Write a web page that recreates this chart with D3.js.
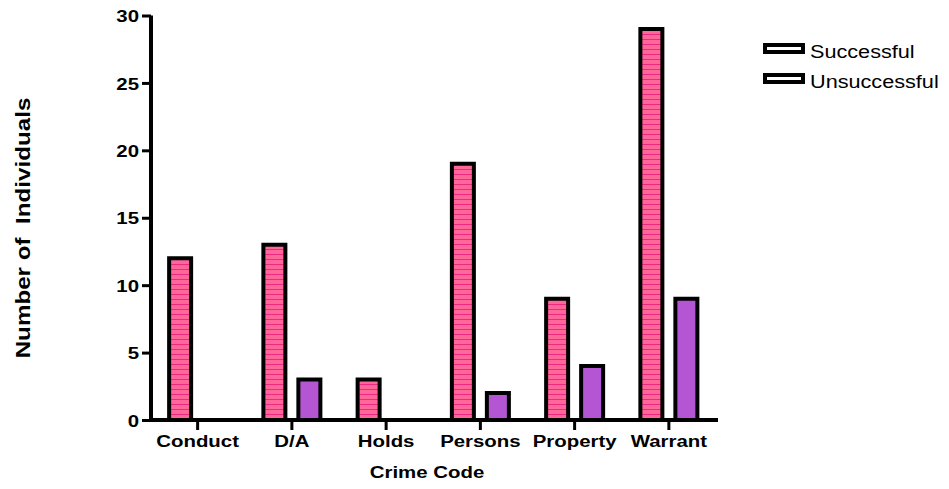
<!DOCTYPE html>
<html>
<head>
<meta charset="utf-8">
<script src="https://cdn.jsdelivr.net/npm/d3@7"></script>
<style>
  html, body { margin: 0; padding: 0; background: #fff; }
  svg { display: block; }
  text { font-family: "Liberation Sans", Arial, Helvetica, sans-serif; fill: #000; }
</style>
</head>
<body>
<svg id="chart" width="949" height="489"></svg>
<script>
const categories = ["Conduct", "D/A", "Holds", "Persons", "Property", "Warrant"];
const seriesNames = ["Successful", "Unsuccessful"];
const successful = [12, 13, 3, 19, 9, 29];
const unsuccessful = [0, 3, 0, 2, 4, 9];
const yTicks = [0, 5, 10, 15, 20, 25, 30];
const xTitle = "Crime Code";
const yTitle = "Number of \u00a0Individuals";

const FONT = "Liberation Sans, Arial, Helvetica, sans-serif";
const STRETCH = 1.2;

const svg = d3.select("#chart");
const defs = svg.append("defs");
const pat = defs.append("pattern")
  .attr("id", "stripes").attr("patternUnits", "userSpaceOnUse")
  .attr("width", 10).attr("height", 5);
pat.append("rect").attr("width", 10).attr("height", 5).attr("fill", "#FF6699");
pat.append("rect").attr("y", 4).attr("width", 10).attr("height", 1).attr("fill", "#EE2A80");

const x0 = d3.scaleBand().domain(categories).range([150.5, 716]).padding(0);
const x1 = d3.scaleBand().domain(seriesNames).range([-30.5, 30.5]).paddingInner(0.257).paddingOuter(0);
const y = d3.scaleLinear().domain([0, 30]).range([420, 15.5]);

const fills = { "Successful": "url(#stripes)", "Unsuccessful": "#B456D4" };
const data = categories.map((c, i) => ({ cat: c, vals: [
  { s: "Successful", v: successful[i] },
  { s: "Unsuccessful", v: unsuccessful[i] }
]}));

const g = svg.append("g");
const groups = g.selectAll("g.grp").data(data).join("g")
  .attr("transform", d => `translate(${x0(d.cat) + x0.bandwidth() / 2},0)`);
groups.selectAll("path").data(d => d.vals).join("path")
  .attr("d", d => {
    const xl = x1(d.s) + 2, xr = x1(d.s) + x1.bandwidth() - 2;
    const y0 = y(0), yv = y(d.v);
    return `M${xl},${y0}V${yv}H${xr}V${y0}Z`;
  })
  .attr("fill", d => fills[d.s])
  .attr("stroke", "#000").attr("stroke-width", 4);

function stretch(sel, s) {
  sel.each(function () {
    const t = d3.select(this);
    const xx = +t.attr("x") || 0;
    t.attr("x", 0).attr("transform", `translate(${xx},0) scale(${s},1)`);
  });
}

// Y axis
const yAxis = g.append("g").attr("transform", "translate(151,0)")
  .call(d3.axisLeft(y).tickValues(yTicks).tickSize(9).tickPadding(3));
yAxis.select(".domain").attr("stroke-width", 4).attr("d", `M0,${y(30)}V${y(0) + 2}`);
yAxis.selectAll(".tick line").attr("stroke-width", 3);
yAxis.selectAll(".tick text").attr("font-size", 17).attr("font-weight", "bold")
  .attr("font-family", FONT).attr("dy", "0.36em").call(stretch, STRETCH);

// X axis
const xAxis = g.append("g").attr("transform", `translate(0,${y(0)})`)
  .call(d3.axisBottom(x0).tickSize(10).tickPadding(5));
xAxis.select(".domain").attr("stroke-width", 4).attr("d", `M149,0H718`);
xAxis.selectAll(".tick line").attr("stroke-width", 3);
xAxis.selectAll(".tick text").attr("font-size", 17).attr("font-weight", "bold")
  .attr("font-family", FONT).call(stretch, STRETCH);

// Titles
svg.append("text").attr("transform", `translate(427,478) scale(${STRETCH},1)`)
  .attr("text-anchor", "middle")
  .attr("font-size", 17).attr("font-weight", "bold").text(xTitle);
svg.append("text").attr("transform", `translate(30,228) rotate(-90) scale(1.21,1)`)
  .attr("text-anchor", "middle").attr("font-size", 20).attr("font-weight", "bold").text(yTitle);

// Legend
const leg = svg.append("g");
seriesNames.forEach((s, i) => {
  const yy = 45 + i * 30;
  leg.append("rect").attr("x", 765).attr("y", yy).attr("width", 38).attr("height", 7)
    .attr("fill", "#fff").attr("stroke", "#000").attr("stroke-width", 4);
  leg.append("text").attr("transform", `translate(810,${yy + 13}) scale(1.14,1)`)
    .attr("font-size", 19).text(s);
});
</script>
</body>
</html>
